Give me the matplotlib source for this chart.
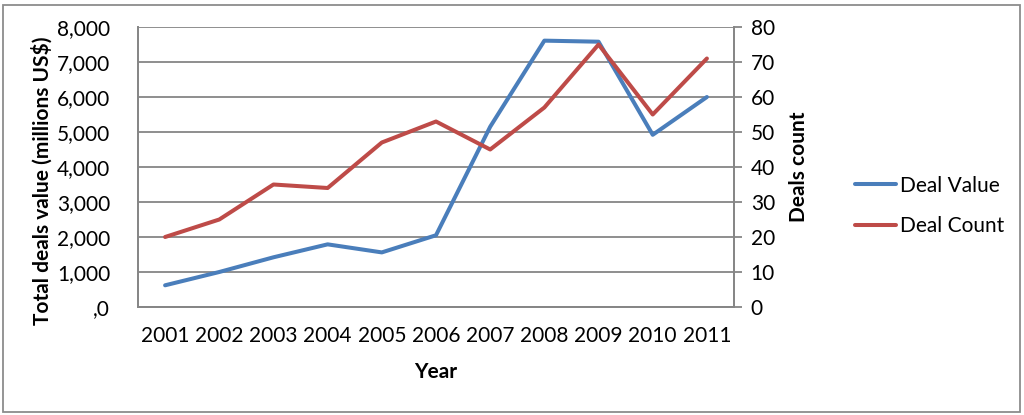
import matplotlib.pyplot as plt
from matplotlib.patches import Rectangle

# ----------------------------------------------------------------------
# Data
# ----------------------------------------------------------------------
years = ["2001", "2002", "2003", "2004", "2005", "2006",
         "2007", "2008", "2009", "2010", "2011"]
deal_value = [620, 1000, 1420, 1790, 1560, 2050, 5150, 7610, 7580, 4920, 6000]
deal_count = [20, 25, 35, 34, 47, 53, 45, 57, 75, 55, 71]

left_ticks = [0, 1000, 2000, 3000, 4000, 5000, 6000, 7000, 8000]
left_labels = [",0", "1,000", "2,000", "3,000", "4,000", "5,000", "6,000", "7,000", "8,000"]
right_ticks = [0, 10, 20, 30, 40, 50, 60, 70, 80]

plt.rcParams['font.family'] = ['Lato', 'DejaVu Sans']

BLUE = '#4A7EBB'
RED = '#BE4B48'
GRID = '#868686'
FS = 15

# ----------------------------------------------------------------------
# Plot
# ----------------------------------------------------------------------
fig = plt.figure(figsize=(10.24, 4.15), dpi=100)
ax = fig.add_axes([138 / 1024, 1 - 307 / 415, (734 - 138) / 1024, (307 - 27) / 415])
ax2 = ax.twinx()

x = list(range(len(years)))
l1, = ax.plot(x, deal_value, color=BLUE, linewidth=2.9, solid_capstyle='round',
              solid_joinstyle='round', label='Deal Value', zorder=3)
l2, = ax2.plot(x, deal_count, color=RED, linewidth=2.9, solid_capstyle='round',
               solid_joinstyle='round', label='Deal Count', zorder=3)

ax.set_xlim(-0.5, len(years) - 0.5)
ax.set_ylim(0, 8000)
ax2.set_ylim(0, 80)

ax.set_yticks(left_ticks)
ax.set_yticklabels(left_labels)
ax2.set_yticks(right_ticks)
ax.set_xticks(x)
ax.set_xticklabels(years)

ax.grid(True, axis='y', color=GRID, linewidth=1.3)
ax.set_axisbelow(True)

for a in (ax, ax2):
    a.spines['top'].set_visible(False)
    for s in ('left', 'bottom', 'right'):
        a.spines[s].set_color(GRID)
        a.spines[s].set_linewidth(1.3)

ax.tick_params(axis='y', length=0, labelsize=FS, pad=20)
ax.tick_params(axis='x', length=0, labelsize=FS, pad=14)
ax2.tick_params(axis='y', length=6, width=1.3, color=GRID, labelsize=FS, pad=6)

ax.set_xlabel('Year', fontsize=FS, fontweight='bold', labelpad=11)
ax.set_ylabel('Total deals value (millions US$)', fontsize=FS, fontweight='bold')
ax.yaxis.set_label_coords(-0.143, 0.45)
ax2.set_ylabel('Deals count', fontsize=FS, fontweight='bold', labelpad=10)

fig.legend(handles=[l1, l2], loc='center left', bbox_to_anchor=(836 / 1024, 1 - 206 / 415),
           frameon=False, fontsize=FS, handlelength=2.0, handletextpad=0.15,
           labelspacing=1.0)

# figure border
fig.patches.append(Rectangle((3 / 1024, 3 / 415), 1 - 7 / 1024, 1 - 8 / 415,
                             transform=fig.transFigure, fill=False,
                             edgecolor='#8C8C8C', linewidth=1.3))

fig.savefig('out.png', dpi=100)
